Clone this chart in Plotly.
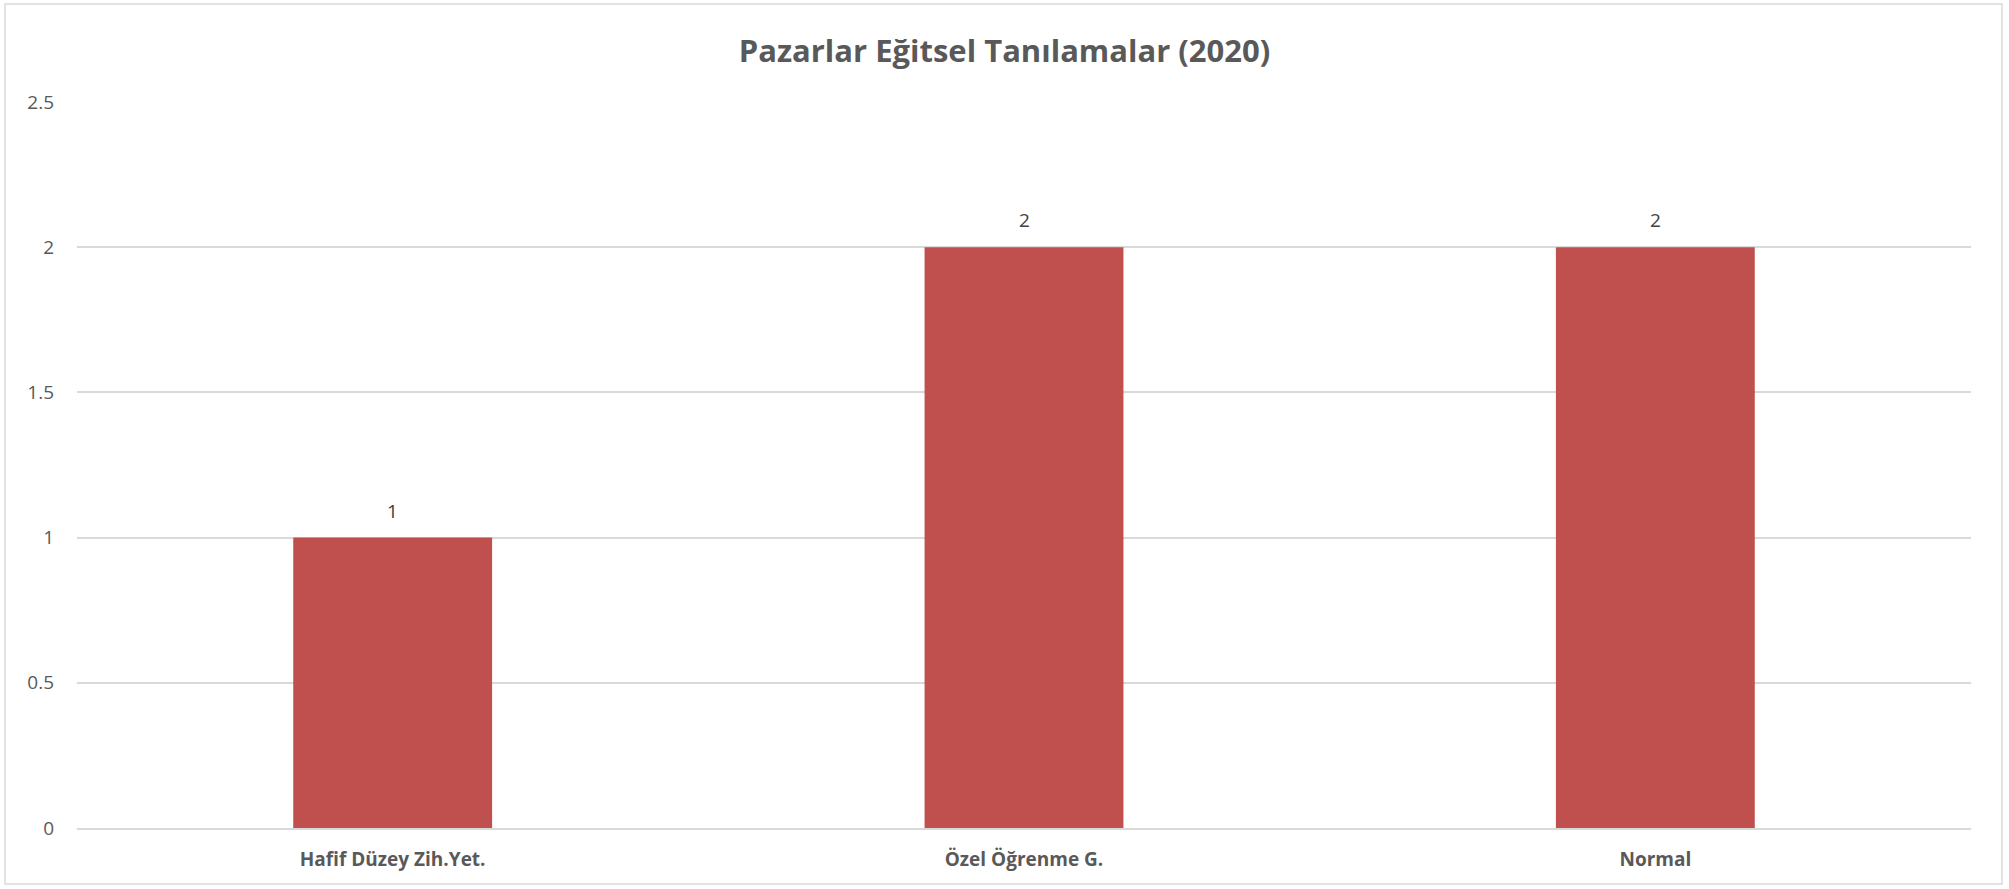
import plotly.graph_objects as go

# Chart content
title_text = "Pazarlar Eğitsel Tanılamalar (2020)"
categories = ["Hafif Düzey Zih.Yet.", "Özel Öğrenme G.", "Normal"]
values = [1, 2, 2]
y_ticks = [0, 0.5, 1, 1.5, 2, 2.5]
y_tick_labels = ["0", "0.5", "1", "1.5", "2", "2.5"]

W, H = 2009, 889
ML, MR, MT, MB = 77, 38, 102, 61
FONT = "Open Sans"
BAR = "#c0504d"
GRID = "#d9d9d9"

fig = go.Figure()
fig.add_trace(go.Bar(
    x=categories, y=values, width=0.315,
    marker=dict(color=BAR, line=dict(width=0)),
    hoverinfo="x+y",
))

# value labels above each bar
for c, v in zip(categories, values):
    fig.add_annotation(
        x=c, y=v, text=str(v), showarrow=False,
        yanchor="middle", yshift=27,
        font=dict(family=FONT, size=19, color="#404040"),
    )

# outer chart frame (pixel positions converted to paper units)
pw, ph = W - ML - MR, H - MT - MB
def px_x(p):
    return (p - ML) / pw
def px_y(p):
    return (H - MB - p) / ph
fig.add_shape(
    type="rect", xref="paper", yref="paper",
    x0=px_x(5), x1=px_x(2002), y0=px_y(884), y1=px_y(4),
    line=dict(color=GRID, width=1.5), fillcolor="rgba(0,0,0,0)", layer="below",
)

fig.update_layout(
    width=W, height=H,
    margin=dict(l=ML, r=MR, t=MT, b=MB, pad=0),
    paper_bgcolor="white", plot_bgcolor="white",
    showlegend=False,
    title=dict(
        text=f"<b>{title_text}</b>", x=0.5, xref="container", xanchor="center",
        y=1 - 51 / H, yanchor="middle",
        font=dict(family=FONT, size=31, color="#595959"),
    ),
    font=dict(family=FONT, size=19, color="#595959"),
    xaxis=dict(
        showgrid=False, showline=True, linecolor=GRID, linewidth=1.5,
        ticks="", tickfont=dict(family=FONT, size=19, color="#595959", weight="bold"),
        ticklabelstandoff=13,
    ),
    yaxis=dict(
        range=[0, 2.5], tickvals=y_ticks, ticktext=y_tick_labels,
        showgrid=True, gridcolor=GRID, gridwidth=1.5,
        zeroline=False, showline=False, ticks="",
        tickfont=dict(family=FONT, size=19, color="#595959"),
        ticklabelstandoff=22,
    ),
)

fig.write_html("out.html")
